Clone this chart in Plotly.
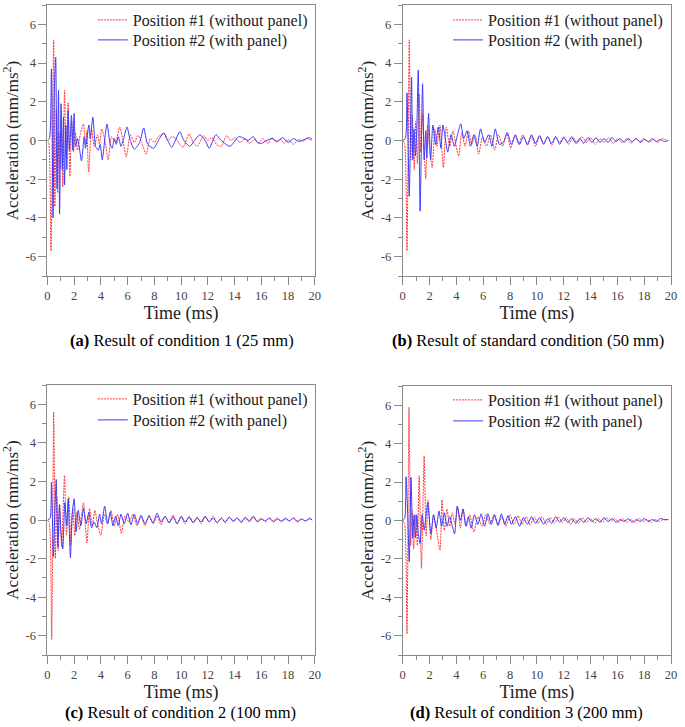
import plotly.graph_objects as go

# ---------------- data ----------------
SERIES_1 = "Position #1 (without panel)"
SERIES_2 = "Position #2 (with panel)"

x_tick_vals = [0, 2, 4, 6, 8, 10, 12, 14, 16, 18, 20]
x_tick_text = ["0", "2", "4", "6", "8", "10", "12", "14", "16", "18", "20"]
y_tick_vals = [-6, -4, -2, 0, 2, 4, 6]
y_tick_text = ["-6", "-4", "-2", "0", "2", "4", "6"]

captions = [
    "<b>(a)</b> Result of condition 1 (25 mm)",
    "<b>(b)</b> Result of standard condition (50 mm)",
    "<b>(c)</b> Result of condition 2 (100 mm)",
    "<b>(d)</b> Result of condition 3 (200 mm)",
]

# (a) condition 1
a_red_t = [0, 0.1, 0.27, 0.47, 0.56, 0.66, 0.76, 0.86, 0.96, 1.06,
           1.15, 1.28, 1.4, 1.55, 1.68, 1.82, 1.95, 2.1, 2.25, 2.45,
           2.7, 2.85, 2.95, 3.08, 3.3, 3.5, 3.75, 3.9, 4.06, 4.3,
           4.55, 4.8, 5.1, 5.4, 5.65, 5.9, 6.2, 6.5, 6.77, 7.05,
           7.38, 7.7, 8.0, 8.3, 8.7, 9.0, 9.3, 9.6, 9.9, 10.15,
           10.6, 10.9, 11.2, 11.7, 12.0, 12.3, 12.7, 13.0, 13.4, 13.7,
           14.0, 14.4, 14.8, 15.1, 15.5, 15.8, 16.1, 16.5, 16.8, 17.1,
           17.4, 17.7, 18.0, 18.4, 18.8, 19.1, 19.4, 19.8]
a_red_v = [0, -0.1, -5.7, 5.2, -3.4, 1.6, -2.7, 0.4, -1.5, 0.6,
           -2.4, 2.6, -0.9, 1.95, -1.85, 1.0, -0.6, 0.4, -0.5, 0.3,
           0.85, -0.2, 0.5, -1.64, 0.6, -0.3, 0.3, -0.2, 0.6, 0.0,
           -1.0, 0.2, -0.1, 0.7, 0.0, -0.86, 0.3, -0.1, 0.26, -0.1,
           -0.7, 0.1, -0.1, 0.2, 0.35, 0.0, 0.2, 0.1, -0.2, -0.35,
           0.35, -0.1, -0.3, 0.25, 0.0, 0.15, -0.25, -0.3, 0.25, 0.0,
           0.15, -0.1, 0.1, -0.15, 0.05, -0.15, 0.1, -0.15, 0.15, -0.1,
           0.1, -0.15, 0.05, -0.2, 0.05, -0.05, 0.1, 0.0]
a_blue_t = [0, 0.15, 0.3, 0.42, 0.52, 0.62, 0.72, 0.83, 0.91, 1.02,
            1.12, 1.2, 1.28, 1.38, 1.45, 1.55, 1.65, 1.8, 1.9, 2.0,
            2.1, 2.25, 2.35, 2.55, 2.75, 2.85, 3.1, 3.2, 3.4, 3.6,
            3.8, 3.95, 4.1, 4.45, 4.7, 4.85, 5.0, 5.15, 5.3, 5.5,
            5.7, 5.95, 6.2, 6.5, 6.9, 7.2, 7.5, 7.95, 8.3, 8.7,
            9.0, 9.3, 9.9, 10.2, 10.65, 11.0, 11.4, 11.8, 12.1, 12.6,
            13.0, 13.65, 14.3, 14.6, 15.0, 15.4, 15.7, 16.0, 16.4, 16.8,
            17.2, 17.6, 18.0, 18.4, 18.8, 19.2, 19.6, 19.8]
a_blue_v = [0, 0.1, 3.7, -4.0, 2.5, 4.3, -2.5, 2.6, -3.8, 1.9,
            -1.5, 1.2, -2.3, 0.8, -1.5, 1.55, -0.5, 1.3, -0.5, 1.4,
            -0.3, 0.1, -0.2, -1.05, 0.2, -0.4, 0.8, 0.1, 1.2, -0.3,
            -0.5, -0.2, -1.0, 0.85, -0.2, -0.4, 0.1, -0.2, 0.2, -0.3,
            0.1, 0.7, 0.0, -0.45, -0.1, 0.65, -0.2, -0.4, 0.0, 0.4,
            0.0, -0.35, 0.45, 0.0, -0.3, 0.0, 0.3, 0.0, -0.4, 0.3,
            0.0, -0.3, 0.2, 0.15, 0.0, 0.2, -0.1, -0.15, 0.0, 0.1,
            -0.05, 0.15, -0.1, 0.1, -0.05, 0.05, 0.15, 0.05]

# (b) standard condition
b_red_t = [0, 0.15, 0.32, 0.49, 0.6, 0.72, 0.86, 0.97, 1.1, 1.23,
           1.35, 1.48, 1.6, 1.72, 1.85, 2.0, 2.2, 2.4, 2.55, 2.78,
           3.03, 3.25, 3.5, 3.75, 3.95, 4.18, 4.4, 4.65, 4.9, 5.15,
           5.4, 5.66, 5.95, 6.25, 6.55, 6.85, 7.15, 7.45, 7.75, 8.05,
           8.35, 8.65, 8.95, 9.3, 9.6, 9.9, 10.2, 10.5, 10.8, 11.1,
           11.4, 11.7, 12.0, 12.35, 12.7, 13.0, 13.35, 13.7, 14.0, 14.35,
           14.7, 15.0, 15.35, 15.7, 16.0, 16.35, 16.7, 17.0, 17.35, 17.7,
           18.0, 18.35, 18.7, 19.0, 19.35, 19.7]
b_red_v = [0, -0.2, -5.7, 5.2, -1.0, 1.3, -1.5, 1.0, -1.2, 2.4,
           -0.6, 1.4, -0.5, -2.0, 0.8, -0.4, -1.4, 0.6, -0.3, 0.8,
           -1.4, 0.7, -0.3, 0.5, -0.2, -0.8, 0.4, -0.3, 0.5, -0.2,
           0.3, -0.7, 0.2, -0.3, 0.3, -0.5, 0.3, -0.3, 0.4, -0.4,
           0.25, -0.2, 0.3, -0.25, 0.2, -0.3, 0.25, -0.15, 0.2, -0.25,
           0.2, -0.1, 0.2, -0.2, 0.15, -0.15, 0.2, -0.1, 0.15, -0.2,
           0.1, -0.1, 0.15, -0.15, 0.1, -0.1, 0.1, -0.15, 0.1, -0.05,
           0.1, -0.1, 0.05, -0.1, 0.1, 0.0]
b_blue_t = [0, 0.2, 0.32, 0.49, 0.66, 0.75, 0.85, 0.95, 1.05, 1.16,
            1.3, 1.48, 1.6, 1.72, 1.8, 1.93, 2.08, 2.25, 2.45, 2.65,
            2.85, 3.0, 3.36, 3.6, 3.85, 4.05, 4.33, 4.55, 4.8, 5.05,
            5.3, 5.55, 5.8, 6.1, 6.4, 6.65, 6.9, 7.2, 7.5, 7.8,
            8.1, 8.4, 8.7, 9.0, 9.3, 9.6, 9.9, 10.2, 10.5, 10.8,
            11.1, 11.4, 11.7, 12.0, 12.3, 12.6, 12.9, 13.2, 13.5, 13.8,
            14.1, 14.4, 14.7, 15.0, 15.3, 15.6, 15.9, 16.2, 16.5, 16.8,
            17.1, 17.4, 17.7, 18.0, 18.3, 18.6, 18.9, 19.2, 19.5, 19.8]
b_blue_v = [0, 0.1, 2.46, -2.88, 3.28, -1.0, 0.6, -0.8, 0.5, 3.64,
            -3.65, 2.93, -1.0, 0.5, -0.9, 1.4, -1.0, 0.8, -0.2, 0.7,
            -0.4, 0.8, -0.6, 0.3, -0.3, 0.2, 0.86, 0.1, 0.5, -0.3,
            0.3, -0.3, 0.6, -0.1, 0.3, -0.3, 0.6, -0.2, -0.1, 0.4,
            -0.2, 0.3, -0.2, 0.2, -0.2, 0.3, -0.15, 0.25, -0.2, 0.2,
            -0.15, 0.2, -0.2, 0.15, -0.1, 0.2, -0.15, 0.1, -0.15, 0.15,
            -0.1, 0.15, -0.1, 0.1, -0.1, 0.15, -0.05, 0.1, -0.1, 0.1,
            -0.05, 0.1, -0.1, 0.05, -0.05, 0.1, -0.05, 0.05, -0.05, 0.0]

# (c) condition 2
c_red_t = [0, 0.15, 0.32, 0.47, 0.59, 0.7, 0.8, 0.92, 1.06, 1.28,
           1.42, 1.6, 1.75, 1.9, 2.05, 2.2, 2.4, 2.55, 2.7, 2.95,
           3.15, 3.35, 3.55, 3.75, 4.0, 4.25, 4.5, 4.75, 5.0, 5.25,
           5.53, 5.8, 6.1, 6.4, 6.7, 7.0, 7.3, 7.6, 7.9, 8.2,
           8.5, 8.8, 9.1, 9.4, 9.7, 10.0, 10.3, 10.6, 10.9, 11.2,
           11.5, 11.8, 12.1, 12.4, 12.7, 13.0, 13.3, 13.6, 13.9, 14.2,
           14.5, 14.8, 15.1, 15.4, 15.7, 16.0, 16.3, 16.6, 16.9, 17.2,
           17.5, 17.8, 18.1, 18.4, 18.7, 19.0, 19.3, 19.6, 19.8]
c_red_v = [0, -0.2, -6.2, 5.6, -2.0, 1.2, -1.6, 0.8, -1.4, 2.3,
           -0.8, 1.2, -1.3, 0.6, -0.8, 0.4, -0.5, 0.3, 0.9, -1.2,
           0.6, -0.3, 0.5, -0.2, -0.8, 0.3, -0.2, 0.5, -0.3, 0.3,
           -0.7, 0.2, -0.1, 0.3, -0.3, 0.2, -0.3, 0.25, -0.2, 0.2,
           -0.25, 0.2, -0.15, 0.25, -0.2, 0.15, -0.2, 0.2, -0.1, 0.15,
           -0.2, 0.15, -0.1, 0.2, -0.15, 0.1, -0.15, 0.15, -0.1, 0.1,
           -0.15, 0.1, -0.1, 0.15, -0.05, 0.1, -0.1, 0.1, -0.05, 0.1,
           -0.1, 0.05, -0.05, 0.1, -0.05, 0.05, -0.05, 0.05, 0.0]
c_blue_t = [0, 0.2, 0.3, 0.45, 0.55, 0.66, 0.78, 0.9, 1.0, 1.15,
            1.3, 1.45, 1.55, 1.72, 1.85, 2.0, 2.15, 2.3, 2.5, 2.7,
            2.9, 3.1, 3.3, 3.5, 3.7, 3.9, 4.05, 4.28, 4.5, 4.7,
            4.9, 5.1, 5.3, 5.5, 5.75, 6.0, 6.25, 6.5, 6.75, 7.0,
            7.3, 7.6, 7.9, 8.2, 8.5, 8.8, 9.1, 9.4, 9.7, 10.0,
            10.3, 10.6, 10.9, 11.2, 11.5, 11.8, 12.1, 12.4, 12.7, 13.0,
            13.3, 13.6, 13.9, 14.2, 14.5, 14.8, 15.1, 15.4, 15.7, 16.0,
            16.3, 16.6, 16.9, 17.2, 17.5, 17.8, 18.1, 18.4, 18.7, 19.0,
            19.3, 19.6, 19.8]
c_blue_v = [0, 0.1, 1.95, -1.9, 0.3, 2.1, -1.4, 0.8, -0.5, -1.5,
            0.9, -0.3, 1.1, -1.95, 0.3, 1.1, -0.6, 0.5, -0.3, 0.6,
            -0.2, 0.4, -0.4, -0.1, -0.4, 0.3, -0.2, 0.72, -0.2, 0.4,
            -0.3, 0.2, -0.3, 0.3, -0.2, 0.35, -0.25, 0.3, -0.2, 0.25,
            -0.2, 0.2, -0.15, 0.35, -0.1, 0.2, -0.15, 0.15, -0.2, 0.2,
            -0.1, 0.15, -0.15, 0.1, -0.1, 0.2, -0.1, 0.1, -0.15, 0.1,
            -0.1, 0.15, -0.05, 0.1, -0.1, 0.15, -0.05, 0.2, -0.1, 0.05,
            -0.05, 0.1, -0.1, 0.05, -0.05, 0.1, -0.05, 0.1, -0.1, 0.05,
            -0.05, 0.1, 0.0]

# (d) condition 3
d_red_t = [0, 0.15, 0.32, 0.47, 0.6, 0.7, 0.81, 0.95, 1.1, 1.23,
           1.4, 1.6, 1.75, 1.9, 2.1, 2.3, 2.5, 2.78, 2.93, 3.1,
           3.3, 3.5, 3.7, 3.9, 4.1, 4.3, 4.5, 4.75, 5.0, 5.3,
           5.6, 5.9, 6.2, 6.5, 6.8, 7.1, 7.4, 7.7, 8.0, 8.3,
           8.6, 8.9, 9.2, 9.5, 9.8, 10.1, 10.4, 10.7, 11.0, 11.3,
           11.6, 11.9, 12.2, 12.5, 12.8, 13.1, 13.4, 13.7, 14.0, 14.3,
           14.6, 14.9, 15.2, 15.5, 15.8, 16.1, 16.4, 16.7, 17.0, 17.3,
           17.6, 17.9, 18.2, 18.5, 18.8, 19.1, 19.4, 19.7]
d_red_v = [0, -0.2, -5.9, 5.9, -1.3, 0.5, -1.5, 0.3, -1.3, 2.33,
           -2.5, 3.36, -0.8, 1.07, -1.0, 0.3, -0.4, -1.55, 1.07, -0.5,
           0.6, -0.3, 0.4, -0.2, 0.7, -0.4, 0.6, -0.3, 0.3, -0.6,
           0.2, -0.3, 0.3, -0.2, 0.3, -0.25, 0.2, -0.3, 0.3, -0.2,
           0.25, -0.2, 0.2, -0.25, 0.2, -0.15, 0.2, -0.2, 0.15, -0.15,
           0.2, -0.1, 0.15, -0.2, 0.1, -0.15, 0.15, -0.1, 0.1, -0.15,
           0.1, -0.1, 0.15, -0.05, 0.1, -0.1, 0.1, -0.1, 0.05, -0.1,
           0.1, -0.05, 0.05, -0.1, 0.05, -0.05, 0.05, 0.0]
d_blue_t = [0, 0.15, 0.25, 0.38, 0.49, 0.62, 0.75, 0.85, 0.95, 1.05,
            1.15, 1.3, 1.45, 1.6, 1.75, 1.87, 2.1, 2.3, 2.5, 2.7,
            2.9, 3.1, 3.3, 3.5, 3.7, 3.87, 4.06, 4.3, 4.5, 4.7,
            4.9, 5.1, 5.35, 5.6, 5.85, 6.1, 6.35, 6.6, 6.85, 7.1,
            7.35, 7.6, 7.85, 8.1, 8.4, 8.7, 9.0, 9.3, 9.6, 9.9,
            10.2, 10.5, 10.8, 11.1, 11.4, 11.7, 12.0, 12.3, 12.6, 12.9,
            13.2, 13.5, 13.8, 14.1, 14.4, 14.7, 15.0, 15.3, 15.6, 15.9,
            16.2, 16.5, 16.8, 17.1, 17.4, 17.7, 18.0, 18.3, 18.6, 18.9,
            19.2, 19.5, 19.8]
d_blue_v = [0, 0.1, 2.28, 0.2, -2.15, 2.25, -0.9, 0.3, -0.9, 0.3,
            -0.6, -1.2, 0.3, -0.5, 0.3, 0.95, -0.7, 0.3, -0.4, 0.5,
            -0.3, 0.4, -0.3, 0.2, -0.3, -0.7, 0.75, 0.0, 0.6, -0.3,
            0.2, -0.4, 0.3, -0.2, 0.35, -0.3, 0.35, -0.2, 0.3, -0.25,
            0.35, -0.2, 0.25, -0.2, 0.2, -0.3, 0.15, -0.2, 0.2, -0.15,
            0.15, -0.2, 0.1, -0.15, 0.2, -0.1, 0.15, -0.1, 0.1, -0.15,
            0.1, -0.1, 0.15, -0.05, 0.1, -0.1, 0.15, -0.05, 0.1, -0.1,
            0.05, -0.05, 0.1, -0.1, 0.05, -0.05, 0.1, -0.05, 0.05, -0.05,
            0.1, 0.05, 0.05]

# ---------------- figure ----------------
W, H = 685, 727
FONT = "Liberation Serif, Times New Roman, serif"
RED = "#ff3535"
BLUE = "#3a3aff"
AXIS_GREY = "#8a8a8a"


def fx(p):
    return p / W


def fy(p):
    return 1 - p / H


panels = [
    dict(red=(a_red_t, a_red_v), blue=(a_blue_t, a_blue_v), xpx=(45, 316), ypx=(5, 276), rows=(20, 40), cap=(181, 340)),
    dict(red=(b_red_t, b_red_v), blue=(b_blue_t, b_blue_v), xpx=(405, 677), ypx=(5, 276), rows=(20, 40), cap=(532, 340)),
    dict(red=(c_red_t, c_red_v), blue=(c_blue_t, c_blue_v), xpx=(45, 316), ypx=(385, 655), rows=(399, 420), cap=(180, 712)),
    dict(red=(d_red_t, d_red_v), blue=(d_blue_t, d_blue_v), xpx=(405, 677), ypx=(386, 655), rows=(400, 421), cap=(530, 712)),
]

fig = go.Figure()
layout = dict(
    width=W, height=H,
    margin=dict(l=0, r=0, t=0, b=0),
    paper_bgcolor="white", plot_bgcolor="white",
    font=dict(family=FONT, color="black"),
    showlegend=True,
    annotations=[],
)

for i, p in enumerate(panels):
    n = "" if i == 0 else str(i + 1)
    xa, ya = "x" + n, "y" + n
    leg_red = "legend" + n
    leg_blue = "legend" + str(i + 5)
    fig.add_trace(go.Scatter(
        x=p["red"][0], y=p["red"][1], mode="lines", name=SERIES_1, showlegend=True,
        line=dict(color=RED, width=1, dash="2px,1px", shape="spline", smoothing=0.6),
        xaxis=xa, yaxis=ya, legend=leg_red))
    fig.add_trace(go.Scatter(
        x=p["blue"][0], y=p["blue"][1], mode="lines", name=SERIES_2, showlegend=True,
        line=dict(color=BLUE, width=1, shape="spline", smoothing=0.6),
        xaxis=xa, yaxis=ya, legend=leg_blue))

    layout["xaxis" + n] = dict(
        domain=[fx(p["xpx"][0]), fx(p["xpx"][1])], anchor=ya, range=[0, 20],
        tickmode="array", tickvals=x_tick_vals, ticktext=x_tick_text,
        ticks="outside", ticklen=8, tickcolor=AXIS_GREY,
        minor=dict(ticks="outside", dtick=1, ticklen=4, tickcolor=AXIS_GREY),
        showline=True, linecolor=AXIS_GREY, linewidth=1, mirror=True,
        showgrid=False, zeroline=False,
        tickfont=dict(family=FONT, size=12.5, color="#444"),
        title=dict(text="Time (ms)", font=dict(family=FONT, size=18, color="#222"), standoff=0),
    )
    layout["yaxis" + n] = dict(
        domain=[fy(p["ypx"][1]), fy(p["ypx"][0])], anchor=xa, range=[-7, 7],
        tickmode="array", tickvals=y_tick_vals, ticktext=y_tick_text,
        ticks="outside", ticklen=8, tickcolor=AXIS_GREY,
        minor=dict(ticks="outside", dtick=1, ticklen=4, tickcolor=AXIS_GREY),
        showline=True, linecolor=AXIS_GREY, linewidth=1, mirror=True,
        showgrid=False, zeroline=False,
        tickfont=dict(family=FONT, size=12.5, color="#444"),
        title=dict(text="Acceleration (mm/ms<sup>2</sup>)", font=dict(family=FONT, size=17, color="#222"), standoff=2),
    )
    for leg, row in ((leg_red, p["rows"][0]), (leg_blue, p["rows"][1])):
        layout[leg] = dict(
            x=fx(p["xpx"][0] + 46), y=fy(row), xanchor="left", yanchor="middle",
            bgcolor="rgba(0,0,0,0)", borderwidth=0, visible=True,
            font=dict(family=FONT, size=16, color="#222"),
        )
    layout["annotations"].append(dict(
        text=captions[i], xref="paper", yref="paper",
        x=fx(p["cap"][0]), y=fy(p["cap"][1]), xanchor="center", yanchor="middle",
        showarrow=False, font=dict(family=FONT, size=16.5, color="black"),
    ))

fig.update_layout(**layout)
fig.write_html("out.html", config={"displayModeBar": False})

# remove the browser's default 8px page margin so the figure fills the window
with open("out.html", "r", encoding="utf-8") as fh:
    html = fh.read()
html = html.replace("<head>", "<head><style>html,body{margin:0;padding:0;overflow:hidden;}</style>", 1)
with open("out.html", "w", encoding="utf-8") as fh:
    fh.write(html)
